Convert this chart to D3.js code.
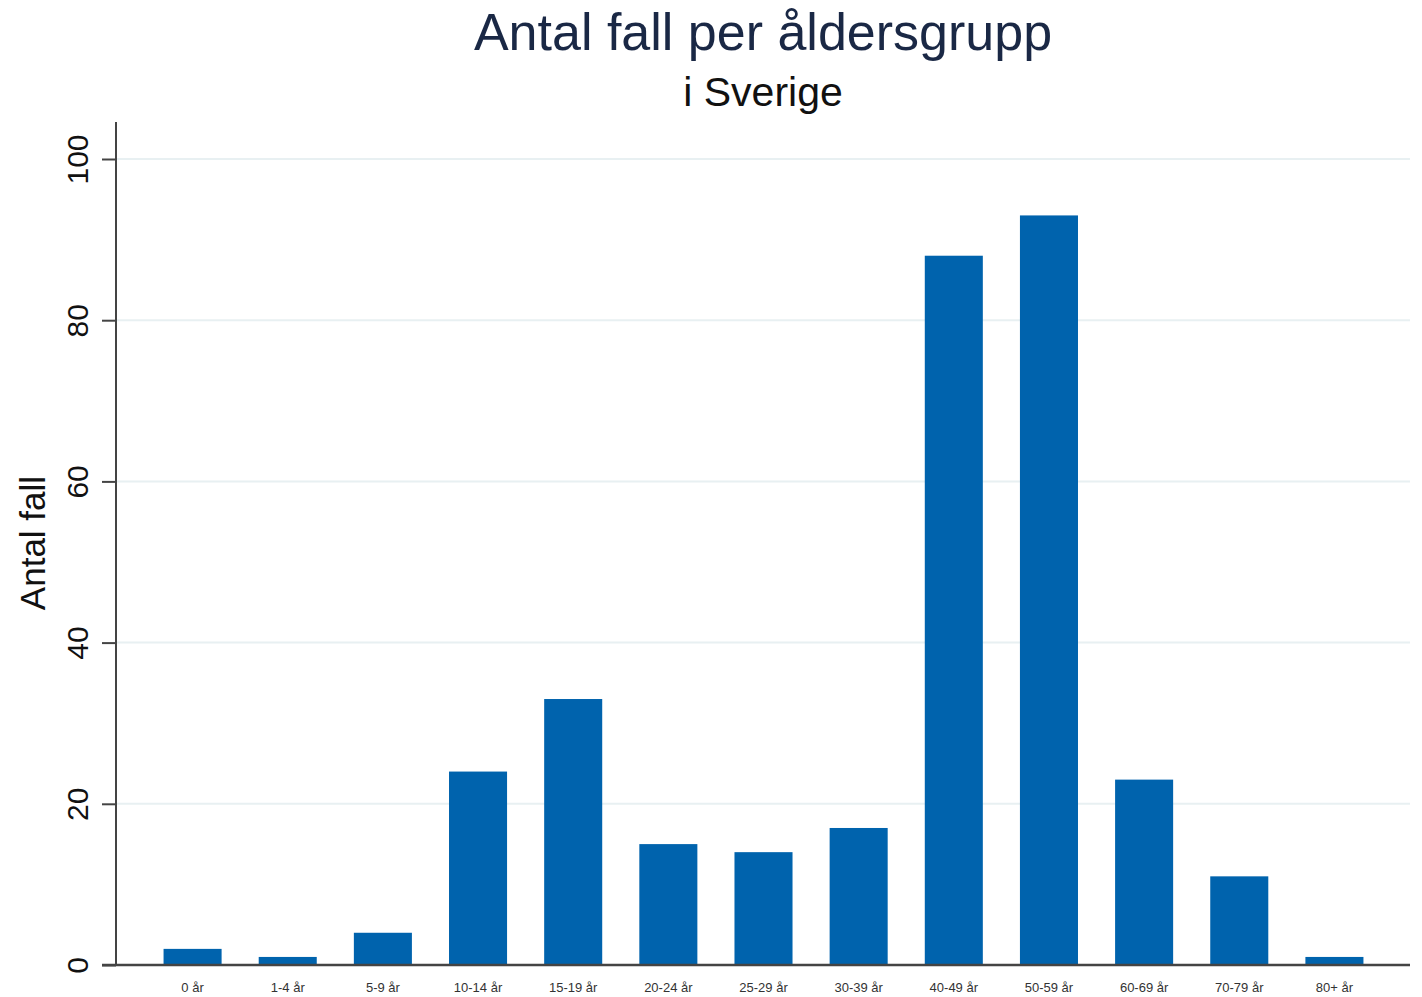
<!DOCTYPE html>
<html>
<head>
<meta charset="utf-8">
<script src="https://cdn.jsdelivr.net/npm/d3@7"></script>
<style>
  body { margin: 0; background: #fff; }
  text { font-family: "Liberation Sans", Arial, sans-serif; }
</style>
</head>
<body>
<svg id="chart" width="1422" height="997"></svg>
<script>
const categories = ["0 år", "1-4 år", "5-9 år", "10-14 år", "15-19 år", "20-24 år", "25-29 år",
  "30-39 år", "40-49 år", "50-59 år", "60-69 år", "70-79 år", "80+ år"];
const cases = [2, 1, 4, 24, 33, 15, 14, 17, 88, 93, 23, 11, 1];
const yTicks = [0, 20, 40, 60, 80, 100];

const svg = d3.select("#chart");

const plot = { left: 116, right: 1410, top: 122, bottom: 965 };

const x = d3.scaleBand()
  .domain(categories)
  .range([145, 1382])
  .paddingInner(0.39)
  .paddingOuter(0.195);

const y = d3.scaleLinear()
  .domain([0, 100])
  .range([plot.bottom, 159]);

// grid
svg.append("g")
  .selectAll("line")
  .data(yTicks.filter(d => d > 0))
  .enter()
  .append("line")
  .attr("x1", plot.left)
  .attr("x2", plot.right)
  .attr("y1", d => y(d))
  .attr("y2", d => y(d))
  .attr("stroke", "#e8f0f2")
  .attr("stroke-width", 2);

// bars
svg.append("g")
  .selectAll("rect")
  .data(cases)
  .enter()
  .append("rect")
  .attr("x", (d, i) => x(categories[i]))
  .attr("width", x.bandwidth())
  .attr("y", d => y(d))
  .attr("height", d => y(0) - y(d))
  .attr("fill", "#0063ad");

// y axis
const yAxis = svg.append("g")
  .attr("transform", `translate(${plot.left},0)`)
  .call(d3.axisLeft(y).tickValues(yTicks).tickSize(14));
yAxis.select(".domain").remove();
yAxis.selectAll(".tick line").attr("stroke", "#444").attr("stroke-width", 2);
yAxis.selectAll(".tick text").remove();
yAxis.selectAll(".tick")
  .append("text")
  .attr("transform", "translate(-28,0) rotate(-90)")
  .attr("text-anchor", "middle")
  .attr("font-size", 30)
  .attr("fill", "#111")
  .text(d => d);

svg.append("line")
  .attr("x1", plot.left)
  .attr("x2", plot.left)
  .attr("y1", plot.top)
  .attr("y2", plot.bottom)
  .attr("stroke", "#444")
  .attr("stroke-width", 2);

// x axis
svg.append("line")
  .attr("x1", plot.left - 14)
  .attr("x2", plot.right)
  .attr("y1", plot.bottom)
  .attr("y2", plot.bottom)
  .attr("stroke", "#444")
  .attr("stroke-width", 2.5);

const xAxis = svg.append("g")
  .attr("transform", `translate(0,${plot.bottom})`)
  .call(d3.axisBottom(x).tickSize(0).tickPadding(18));
xAxis.select(".domain").remove();
xAxis.selectAll(".tick text")
  .attr("font-size", 13)
  .attr("fill", "#333");

// y label
svg.append("text")
  .attr("transform", "translate(45,543) rotate(-90)")
  .attr("text-anchor", "middle")
  .attr("font-size", 35)
  .attr("fill", "#111")
  .text("Antal fall");

// titles
svg.append("text")
  .attr("x", 763)
  .attr("y", 50)
  .attr("text-anchor", "middle")
  .attr("font-size", 52)
  .attr("fill", "#1a2845")
  .text("Antal fall per åldersgrupp");

svg.append("text")
  .attr("x", 763)
  .attr("y", 106)
  .attr("text-anchor", "middle")
  .attr("font-size", 41)
  .attr("fill", "#111")
  .text("i Sverige");
</script>
</body>
</html>
